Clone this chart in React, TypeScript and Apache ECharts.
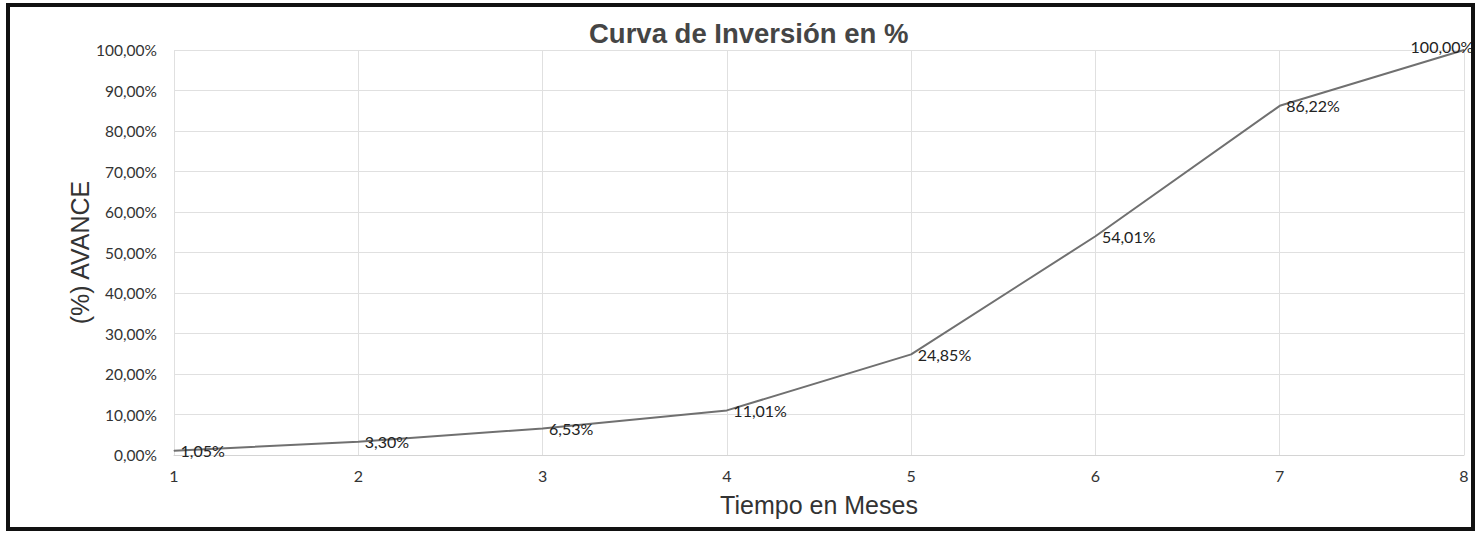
import React, { useEffect, useRef } from "react";
import * as echarts from "echarts";

const months = [1, 2, 3, 4, 5, 6, 7, 8];
const avance = [1.05, 3.3, 6.53, 11.01, 24.85, 54.01, 86.22, 100.0];
const titleText = "Curva de Inversión en %";
const xName = "Tiempo en Meses";
const yName = "(%) AVANCE";

const fmt = (v: number) => v.toFixed(2).replace(".", ",") + "%";

export default function App() {
  const ref = useRef<HTMLDivElement>(null);
  useEffect(() => {
    if (!ref.current) return;
    const chart = echarts.init(ref.current, undefined, { renderer: "svg" });
    const data = months.map((m, i) => {
      const item: any = { value: [m, avance[i]] };
      if (i === months.length - 1) {
        item.label = { position: "inside", offset: [-22, -4] };
      }
      return item;
    });
    chart.setOption({
      animation: false,
      backgroundColor: "#ffffff",
      title: {
        text: titleText,
        left: 584,
        top: 14,
        textStyle: {
          fontFamily: "Liberation Sans, Arial, sans-serif",
          fontSize: 27.5,
          fontWeight: "bold",
          color: "#454545",
        },
      },
      graphic: [
        {
          type: "rect",
          shape: { x: 8, y: 5, width: 1465, height: 524 },
          style: { fill: "none", stroke: "#111", lineWidth: 4 },
          z: 100,
        },
      ],
      grid: { left: 174, right: 13, top: 50, bottom: 81 },
      xAxis: {
        type: "value",
        min: 1,
        max: 8,
        interval: 1,
        name: xName,
        nameLocation: "middle",
        nameGap: 37,
        nameMoveOverlap: false,
        nameTextStyle: {
          fontFamily: "Liberation Sans, Arial, sans-serif",
          fontSize: 25,
          color: "#333",
        },
        axisLine: { lineStyle: { color: "#d4d4d4" } },
        axisTick: { show: false },
        axisLabel: {
          margin: 12,
          fontFamily: "Lato, Open Sans, sans-serif",
          fontSize: 16,
          color: "#333",
        },
        splitLine: { show: true, lineStyle: { color: "#e0e0e0" } },
      },
      yAxis: {
        type: "value",
        min: 0,
        max: 100,
        interval: 10,
        name: yName,
        nameLocation: "middle",
        nameGap: 82,
        nameMoveOverlap: false,
        nameTextStyle: {
          fontFamily: "Liberation Sans, Arial, sans-serif",
          fontSize: 25,
          color: "#333",
        },
        axisLine: { show: false },
        axisTick: { show: false },
        axisLabel: {
          margin: 17,
          formatter: (v: number) => fmt(v),
          fontFamily: "Lato, Open Sans, sans-serif",
          fontSize: 15.5,
          color: "#333",
        },
        splitLine: { show: true, lineStyle: { color: "#e0e0e0" } },
      },
      series: [
        {
          type: "line",
          data,
          showSymbol: true,
          symbol: "circle",
          symbolSize: 1,
          itemStyle: { color: "#707070" },
          lineStyle: { color: "#707070", width: 2 },
          label: {
            show: true,
            position: "right",
            distance: 6,
            formatter: (p: any) => fmt(p.value[1]),
            fontFamily: "Lato, Open Sans, sans-serif",
            fontSize: 16,
            color: "#222",
          },
        },
      ],
    });
    return () => chart.dispose();
  }, []);
  return (
    <div
      ref={ref}
      style={{ position: "fixed", left: 0, top: 0, width: 1477, height: 536 }}
    />
  );
}
